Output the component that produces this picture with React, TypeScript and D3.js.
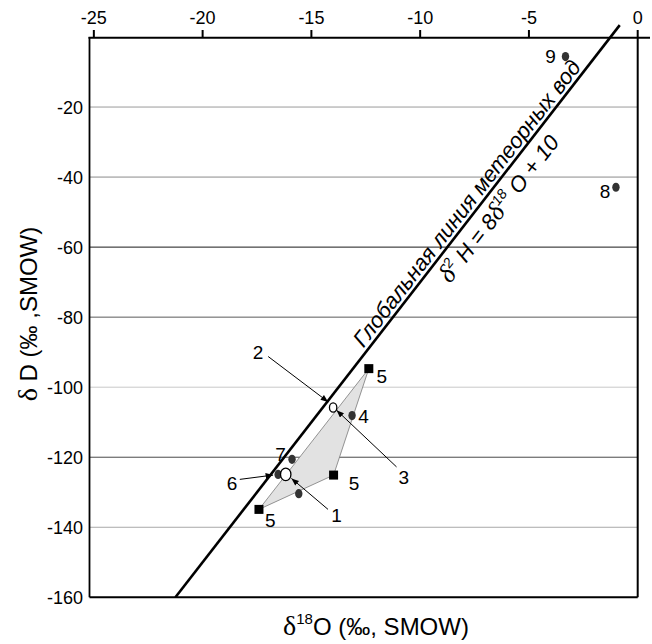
import React from 'react';
import * as d3 from 'd3';

// ---- data ----
const xTicks = [-25, -20, -15, -10, -5];
const yTicks = [-20, -40, -60, -80, -100, -120, -140, -160];
const gridValues = [-20, -40, -60, -80, -100, -120, -140];

// samples "5" (squares)
const squareO = [-12.36, -13.98, -17.41];
const squareD = [-94.7, -125.1, -134.9];
const squareLabels = ['5', '5', '5'];

// filled circles
const filledO = [-13.13, -15.89, -16.53, -15.58, -1.0, -3.32];
const filledD = [-108.1, -120.6, -124.9, -130.4, -42.9, -5.6];
const filledLabels = ['4', '7', '6', '', '8', '9'];

// open circles
const openO = [-16.18, -14.0];
const openD = [-124.9, -105.8];

// global meteoric water line  dD = 8 d18O + 10
const gmwlSlope = 8;
const gmwlIntercept = 10;
const gmwlDRange = [-160, 3.4];

// ---- styles / layout ----
const W = 652;
const H = 644;
const gridColors = ['#9a9a9a', '#8a8a8a', '#1a1a1a', '#5a5a5a', '#c8c8c8', '#4a4a4a', '#a8a8a8'];
const FONT = 'Liberation Sans, Arial, Helvetica, sans-serif';
const SERIF = 'Liberation Serif, Times New Roman, serif';

// label offsets (px) relative to marks
const filledLabelOff = [[11.5, 1], [-11.5, -5.5], [0, 0], [0, 0], [-11, 4], [-15, 0]];
const squareLabelOff = [[13, 8], [20.5, 7.7], [11.4, 11]];
// arrow annotations: label, target kind/index, label offset, arrow start offset, arrow end offset
const arrows = [
  { label: '2', kind: 'open', i: 1, lab: [-75, -55], s: [-65, -51], e: [-5, -5.6] },
  { label: '3', kind: 'open', i: 1, lab: [70.7, 69.4], s: [63.4, 59.4], e: [3.4, 2.7] },
  { label: '6', kind: 'filled', i: 2, lab: [-46, 8.4], s: [-38.3, 5], e: [-5, 0.7] },
  { label: '1', kind: 'open', i: 0, lab: [50.7, 40.7], s: [42.3, 35], e: [5.7, 4] },
];

export default function App() {
  const x = d3.scaleLinear().domain([-25.2, 0]).range([89.5, 637.7]);
  const y = d3.scaleLinear().domain([-160, 0]).range([597.3, 37]);

  const gx = (d: number) => (d - gmwlIntercept) / gmwlSlope;
  const p1 = [x(gx(gmwlDRange[0])), y(gmwlDRange[0])];
  const p2 = [x(gx(gmwlDRange[1])), y(gmwlDRange[1])];
  const angle = (Math.atan2(p2[1] - p1[1], p2[0] - p1[0]) * 180) / Math.PI;
  const onLine = (d: number) => [x(gx(d)), y(d)];

  const tri = squareO.map((o, i) => [x(o), y(squareD[i])]);
  const triPath = d3.line()(tri as [number, number][]) + 'Z';

  const pointPos = (kind: string, i: number) =>
    kind === 'open' ? [x(openO[i]), y(openD[i])] : [x(filledO[i]), y(filledD[i])];

  const nameAnchor = onLine(-49.5);
  const eqAnchor = onLine(-46);

  return (
    <svg width={W} height={H} style={{ position: 'absolute', left: 0, top: 0, background: '#fff' }}>
      <defs>
        <marker id="arr" viewBox="0 0 10 8" refX="10" refY="4" markerWidth="8" markerHeight="6"
          markerUnits="userSpaceOnUse" orient="auto">
          <path d="M0,0 L10,4 L0,8 Z" fill="#000" />
        </marker>
      </defs>
      {/* grid */}
      {gridValues.map((v, i) => (
        <line key={v} x1={x(-25.2)} x2={x(0)} y1={y(v)} y2={y(v)} stroke={gridColors[i]} strokeWidth={1} />
      ))}
      {/* triangle area */}
      <path d={triPath} fill="#e2e2e2" stroke="#7a7a7a" strokeWidth={0.8} />
      {/* GMWL */}
      <line x1={p1[0]} y1={p1[1]} x2={p2[0]} y2={p2[1]} stroke="#000" strokeWidth={2.6} />
      {/* frame */}
      <line x1={x(-25.2)} x2={x(-25.2)} y1={y(0)} y2={y(-160)} stroke="#000" strokeWidth={1.8} />
      <line x1={x(-25.2)} x2={x(0)} y1={y(-160)} y2={y(-160)} stroke="#000" strokeWidth={2} />
      <line x1={x(0)} x2={x(0)} y1={y(0) - 7} y2={y(-160)} stroke="#000" strokeWidth={2} />
      <line x1={x(-25.2) - 1} x2={650} y1={y(0) + 0.7} y2={y(0) + 0.7} stroke="#000" strokeWidth={2} />
      {xTicks.map((t) => (
        <line key={t} x1={x(t)} x2={x(t)} y1={y(0)} y2={y(0) - 7} stroke="#000" strokeWidth={2} />
      ))}
      {[...xTicks, 0].map((t) => (
        <text key={t} x={x(t)} y={23.5} textAnchor="middle" fontFamily={FONT} fontSize={18} fill="#000">
          {t}
        </text>
      ))}
      {yTicks.map((t) => (
        <text key={t} x={83} y={y(t)} dy="0.36em" textAnchor="end" fontFamily={FONT} fontSize={18} fill="#000">
          {t}
        </text>
      ))}
      {/* axis titles */}
      <text x={376} y={635} textAnchor="middle" fontFamily={FONT} fontSize={24} fill="#000">
        <tspan fontFamily={SERIF} fontSize={28}>δ</tspan>
        <tspan fontSize={15} dy={-11}>18</tspan>
        <tspan dy={11}>O (‰, SMOW)</tspan>
      </text>
      <text transform={`translate(37,${314}) rotate(-90)`} textAnchor="middle" fontFamily={FONT} fontSize={24} fill="#000">
        <tspan fontFamily={SERIF} fontSize={28}>δ</tspan>
        <tspan> D (‰ ,SMOW)</tspan>
      </text>
      {/* GMWL labels */}
      <text transform={`translate(${nameAnchor[0]},${nameAnchor[1]}) rotate(${angle})`} y={-4}
        textAnchor="middle" fontFamily={FONT} fontStyle="italic" fontSize={22} fill="#000">
        Глобальная линия метеорных вод
      </text>
      <text transform={`translate(${eqAnchor[0]},${eqAnchor[1]}) rotate(${angle})`} y={25}
        textAnchor="middle" fontFamily={FONT} fontStyle="italic" fontSize={22} fill="#000">
        <tspan fontFamily={SERIF} fontSize={26}>δ</tspan>
        <tspan fontSize={14} dy={-10}>2</tspan>
        <tspan dy={10}> H = 8</tspan>
        <tspan fontFamily={SERIF} fontSize={26}>δ</tspan>
        <tspan fontSize={14} dy={-10}>18</tspan>
        <tspan dy={10}> O + 10</tspan>
      </text>
      {/* arrows */}
      {arrows.map((a, k) => {
        const [px, py] = pointPos(a.kind, a.i);
        return (
          <g key={k}>
            <line x1={px + a.s[0]} y1={py + a.s[1]} x2={px + a.e[0]} y2={py + a.e[1]}
              stroke="#000" strokeWidth={1} markerEnd="url(#arr)" />
            <text x={px + a.lab[0]} y={py + a.lab[1]} dy="0.36em" textAnchor="middle"
              fontFamily={FONT} fontSize={19} fill="#000">{a.label}</text>
          </g>
        );
      })}
      {/* squares */}
      {squareO.map((o, i) => (
        <g key={'s' + i}>
          <rect x={x(o) - 4.5} y={y(squareD[i]) - 4.5} width={9} height={9} fill="#000" />
          <text x={x(o) + squareLabelOff[i][0]} y={y(squareD[i]) + squareLabelOff[i][1]} dy="0.36em"
            textAnchor="middle" fontFamily={FONT} fontSize={19} fill="#000">{squareLabels[i]}</text>
        </g>
      ))}
      {/* filled circles */}
      {filledO.map((o, i) => (
        <g key={'f' + i}>
          <ellipse cx={x(o)} cy={y(filledD[i])} rx={3.7} ry={4.6} fill="#333" />
          {filledLabels[i] && filledLabels[i] !== '6' && (
            <text x={x(o) + filledLabelOff[i][0]} y={y(filledD[i]) + filledLabelOff[i][1]} dy="0.36em"
              textAnchor="middle" fontFamily={FONT} fontSize={19} fill="#000">{filledLabels[i]}</text>
          )}
        </g>
      ))}
      {/* open circles */}
      {openO.map((o, i) => (
        <ellipse key={'o' + i} cx={x(o)} cy={y(openD[i])} rx={i === 0 ? 5.2 : 3.7} ry={i === 0 ? 6.3 : 4.7}
          fill="#fff" stroke="#000" strokeWidth={1.3} />
      ))}
    </svg>
  );
}
